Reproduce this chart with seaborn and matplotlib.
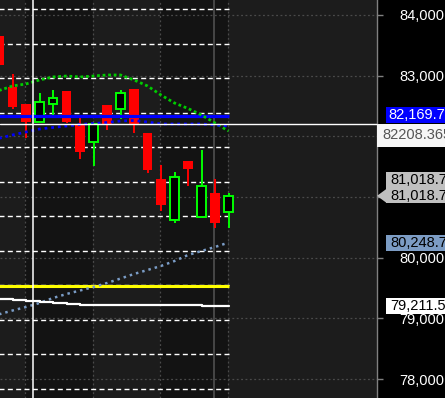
import numpy as np
import pandas as pd
import seaborn as sns
import matplotlib
matplotlib.use("Agg")
import matplotlib.pyplot as plt
from matplotlib.patches import Rectangle, Polygon

# ---------------- data ----------------
candle_idx = list(range(18))
opens  = [83654, 82813, 82533, 82236, 82533, 82747, 82187, 81907, 82516, 82451,
          82780, 82055, 81297, 80621, 81593, 80670, 81066, 80753]
highs  = [83700, 83027, 82540, 82714, 82764, 82750, 82319, 82210, 82520, 82764,
          82785, 82060, 81527, 81412, 81600, 81775, 81297, 81066]
lows   = [83100, 82451, 81973, 82230, 82335, 82220, 81626, 81511, 82104, 82286,
          82055, 81396, 80769, 80571, 81181, 80665, 80489, 80489]
closes = [83176, 82484, 82236, 82566, 82632, 82236, 81742, 82203, 82187, 82714,
          82187, 81445, 80868, 81330, 81461, 81181, 80571, 81018.7]

ma_fast = [82755, 82830, 82863, 82929, 82978, 82994, 82978, 82994, 83011, 83011,
           82929, 82830, 82681, 82549, 82459, 82352, 82220, 82088]
ma_mid = [81968, 82022, 82071, 82121, 82146, 82170, 82195, 82211, 82228, 82253,
          82261, 82236, 82203, 82203, 82203, 82203, 82187, 82169.7]
ma_slow = [79066, 79129, 79187, 79253, 79335, 79401, 79459, 79516, 79582, 79656,
           79731, 79797, 79863, 79945, 80044, 80110, 80176, 80248.7]
step_line = [79323, 79307, 79291, 79272, 79255, 79240, 79226, 79226, 79226, 79226,
             79226, 79226, 79226, 79226, 79226, 79211.5, 79211.5, 79211.5]

yellow_level = 79530
blue_level = 82335
dash_levels = [84099, 83529, 82960, 82390, 81821, 81251, 80682, 80112,
               79543, 78973, 78404, 77834]
crosshair_value = 82208.365
y_ticks = [78000, 79000, 80000, 81000, 82000, 83000, 84000]
# 81,000 and 82,000 sit under the value boxes and are not visible
tick_labels = ["78,000", "79,000", "80,000", "", "", "83,000", "84,000"]

df = pd.DataFrame({"i": candle_idx, "o": opens, "h": highs, "l": lows, "c": closes,
                   "fast": ma_fast, "mid": ma_mid, "slow": ma_slow, "step": step_line})

# ---------------- style ----------------
sns.set_theme(style="dark")
plt.rcParams['font.family'] = ['Liberation Sans', 'DejaVu Sans']

W, H = 445, 398
fig = plt.figure(figsize=(W / 100, H / 100), dpi=100, facecolor='black')
ax = fig.add_axes([0, 0, 377 / W, 1])
ax.set_facecolor('#1c1c1c')
ax.set_xlim(0.074, 28.0)
ax.set_ylim(77687, 84247)

# alternating background bands between vertical grid lines
grid_x = [1.95, 6.95, 11.95, 16.95]
ax.axvspan(grid_x[0], grid_x[1], color='#131313', zorder=0, lw=0)
ax.axvspan(grid_x[2], grid_x[3], color='#131313', zorder=0, lw=0)

# dotted grid
for gx in grid_x:
    ax.axvline(gx, color='#4a4a4a', lw=0.9, ls=(0, (1.5, 2)), zorder=1)
for gy in y_ticks:
    ax.axhline(gy, color='#4a4a4a', lw=0.9, ls=(0, (1.5, 2)), zorder=1)

# dashed white levels
ax.hlines(dash_levels, xmin=-1, xmax=17, colors='white', lw=1.0,
          linestyles=[(0, (3.6, 2.4))], zorder=2)

# vertical gray marker line
ax.axvline(15.93, color='#505050', lw=1.2, zorder=2)

# candles
up = df[df.c >= df.o]
dn = df[df.c < df.o]
ax.vlines(dn.i, dn.l, dn.h, color='#ff0000', lw=1.4, zorder=3)
ax.vlines(up.i, up.l, up.h, color='#00ff00', lw=1.4, zorder=3)
ax.bar(dn.i, dn.o - dn.c, bottom=dn.c, width=0.74, color='#ff0000', lw=0, zorder=4)
ax.bar(up.i, up.c - up.o, bottom=up.o, width=0.64, facecolor='black',
       edgecolor='#00ff00', lw=1.4, zorder=4)

# level lines
ax.hlines(blue_level, -1, 17, colors='#0000ff', lw=2.3, zorder=5)
ax.hlines(yellow_level, -1, 17, colors='#ffff00', lw=2.2, zorder=5)

# moving averages via seaborn
sns.lineplot(data=df, x="i", y="fast", ax=ax, color='#00cc00', lw=2.0,
             linestyle=(0, (1.0, 1.0)), zorder=6)
sns.lineplot(data=df, x="i", y="mid", ax=ax, color='#0000ff', lw=2.0,
             linestyle=(0, (1.0, 1.4)), zorder=6)
sns.lineplot(data=df, x="i", y="slow", ax=ax, color='#7a9cc6', lw=1.8,
             linestyle=(0, (1.0, 1.6)), zorder=6)
sns.lineplot(data=df, x="i", y="step", ax=ax, color='white', lw=1.6,
             drawstyle='steps-post', zorder=6)

# crosshair
ax.axhline(crosshair_value, color='white', lw=1.0, zorder=7)
ax.axvline(2.52, color='white', lw=1.1, zorder=7)

# axes
for s in ['left', 'top', 'bottom']:
    ax.spines[s].set_visible(False)
ax.spines['right'].set_color('#808080')
ax.spines['right'].set_linewidth(1.0)
ax.set_xticks([])
ax.set_xlabel("")
ax.set_ylabel("")
ax.yaxis.tick_right()
ax.set_yticks(y_ticks)
ax.set_yticklabels(tick_labels)
ax.tick_params(axis='y', colors='#808080', labelcolor='white', length=4,
               width=1, pad=12, labelsize=10.5)
ax.grid(False)

# ---------------- right-hand value labels ----------------
fig.canvas.draw()


def ypix(v):
    """pixel from top of figure"""
    return H - ax.transData.transform((0, v))[1]


def box(x0, ytop, ybot, fc):
    fig.patches.append(Rectangle((x0 / W, 1 - ybot / H), (W - x0 + 5) / W,
                                 (ybot - ytop) / H, transform=fig.transFigure,
                                 facecolor=fc, edgecolor='none', zorder=2))


def label(x0, yc, s, color):
    fig.text(x0 / W, 1 - yc / H, s, color=color, fontsize=10.5,
             ha='left', va='center', zorder=3)


# blue MA label (shifted up above crosshair label)
yc = ypix(ma_mid[-1]) - 11
box(386, yc - 8, yc + 8, '#0000ff')
label(388, yc, f"{ma_mid[-1]:,.1f}", 'white')

# crosshair label
yc = ypix(crosshair_value)
box(377, yc, yc + 23, '#f6f6f6')
label(382, yc + 11.5, f"{crosshair_value}", '#555555')

# last close labels (double, with pointer)
yc = ypix(closes[-1])
box(386, yc - 24, yc + 7, '#c0c0c0')
fig.patches.append(Polygon([[377 / W, 1 - yc / H], [386.5 / W, 1 - (yc - 7) / H],
                            [386.5 / W, 1 - (yc + 7) / H]], closed=True,
                           transform=fig.transFigure, facecolor='#c0c0c0',
                           edgecolor='none', zorder=2))
label(390, yc - 16, f"{closes[-1]:,.1f}", 'black')
label(390, yc, f"{closes[-1]:,.1f}", 'black')

# slow MA label
yc = ypix(ma_slow[-1])
box(386, yc - 8, yc + 8, '#7c9cc4')
label(390, yc, f"{ma_slow[-1]:,.1f}", 'black')

# step line label
yc = ypix(step_line[-1])
box(386, yc - 7.5, yc + 8, 'white')
label(390, yc, f"{step_line[-1]:,.1f}", 'black')

fig.savefig("out.png", dpi=100, facecolor='black')
